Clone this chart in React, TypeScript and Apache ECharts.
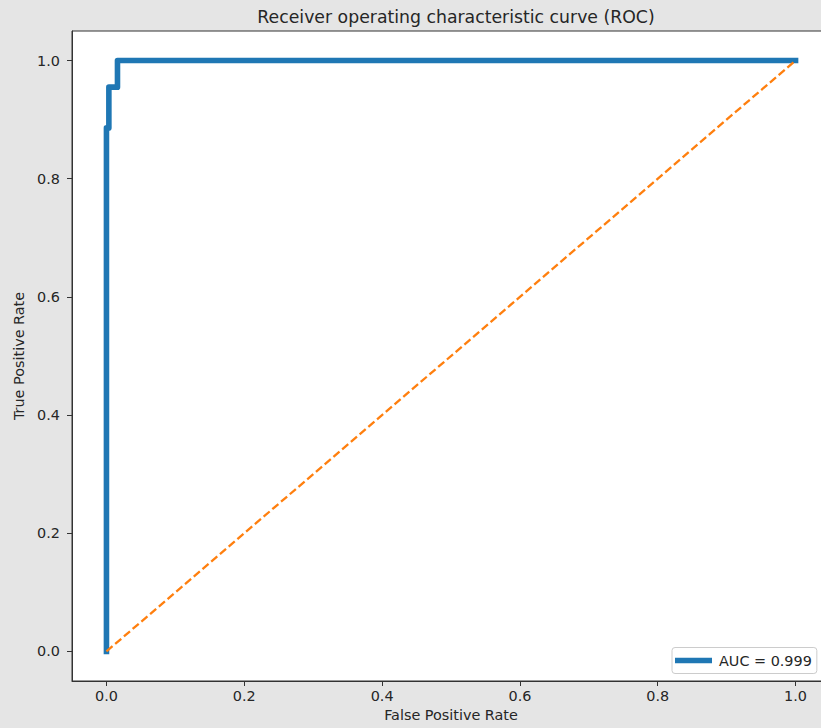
import React, { useEffect, useRef } from "react";
import * as echarts from "echarts";

// ROC curve points (false positive rate, true positive rate)
const fpr: number[] = [0, 0, 0.0035, 0.0035, 0.016, 0.016, 1.0];
const tpr: number[] = [0, 0.886, 0.886, 0.955, 0.955, 1.0, 1.0];

// Chance diagonal
const chanceX: number[] = [0, 1];
const chanceY: number[] = [0, 1];

const tickValues: number[] = [0, 0.2, 0.4, 0.6, 0.8, 1.0];
const aucLabel = "AUC = 0.999";

const FONT = "DejaVu Sans";
const TEXT = "#262626";
const AXIS = "#333333";

export default function App() {
  const ref = useRef<HTMLDivElement>(null);

  useEffect(() => {
    document.body.style.margin = "0";
    if (!ref.current) return;
    const chart = echarts.init(ref.current, null, { renderer: "svg" });

    const axisCommon = {
      type: "value" as const,
      min: -0.05,
      max: 1.05,
      splitLine: { show: false },
      axisLine: { show: true, onZero: false, lineStyle: { color: AXIS, width: 1 } },
      axisTick: {
        show: true,
        inside: false,
        length: 5,
        customValues: tickValues,
        lineStyle: { color: AXIS, width: 1 },
      },
      nameLocation: "middle" as const,
      nameTextStyle: { fontFamily: FONT, fontSize: 14.4, color: TEXT },
    };

    chart.setOption({
      animation: false,
      backgroundColor: "#e5e5e5",
      title: {
        text: "Receiver operating characteristic curve (ROC)",
        left: 451,
        top: 3,
        textAlign: "center",
        textStyle: { fontFamily: FONT, fontSize: 17.3, fontWeight: "normal", color: TEXT },
      },
      // the plot frame runs a little past the right edge of the visible area
      grid: {
        left: 72,
        top: 31,
        right: 0,
        bottom: 47,
        show: true,
        backgroundColor: "#ffffff",
        borderColor: AXIS,
        borderWidth: 1,
      },
      xAxis: {
        ...axisCommon,
        name: "False Positive Rate",
        nameGap: 27,
        axisLabel: {
          customValues: tickValues,
          margin: 8,
          fontFamily: FONT,
          fontSize: 14.4,
          color: TEXT,
          formatter: (v: number) => v.toFixed(1),
        },
      },
      yAxis: {
        ...axisCommon,
        name: "True Positive Rate",
        nameGap: 42,
        axisLabel: {
          customValues: tickValues,
          margin: 12,
          fontFamily: FONT,
          fontSize: 14.4,
          color: TEXT,
          formatter: (v: number) => v.toFixed(1),
        },
      },
      legend: {
        data: [aucLabel],
        left: 672,
        top: 647.5,
        orient: "vertical",
        icon: "rect",
        itemWidth: 37,
        itemHeight: 5.6,
        padding: [6, 5, 6, 3],
        backgroundColor: "#ffffff",
        borderColor: "#cccccc",
        borderWidth: 1,
        borderRadius: 3,
        textStyle: {
          fontFamily: FONT,
          fontSize: 14.4,
          color: TEXT,
          padding: [0, 0, 0, 2],
        },
      },
      series: [
        {
          name: aucLabel,
          type: "line",
          data: fpr.map((x, i) => [x, tpr[i]]),
          showSymbol: false,
          symbol: "none",
          lineStyle: { color: "#1f77b4", width: 5.6, cap: "square", join: "round" },
          itemStyle: { color: "#1f77b4" },
          z: 2,
        },
        {
          name: "chance",
          type: "line",
          data: chanceX.map((x, i) => [x, chanceY[i]]),
          showSymbol: false,
          symbol: "none",
          lineStyle: { color: "#ff7f0e", width: 2.3, type: [8, 3.5] },
          itemStyle: { color: "#ff7f0e" },
          z: 3,
        },
      ],
    });

    return () => chart.dispose();
  }, []);

  return (
    <div
      style={{
        position: "fixed",
        left: 0,
        top: 0,
        width: 821,
        height: 728,
        overflow: "hidden",
        background: "#e5e5e5",
      }}
    >
      <div ref={ref} style={{ width: 830, height: 728 }} />
    </div>
  );
}
